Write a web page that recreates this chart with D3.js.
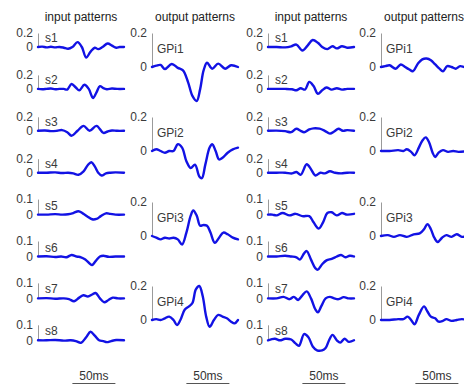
<!DOCTYPE html>
<html><head><meta charset="utf-8">
<script src="https://cdn.jsdelivr.net/npm/d3@7"></script>
<style>body{margin:0;background:#fff}svg{display:block}</style>
</head><body><svg id="c" width="464" height="385"></svg>
<script>
// ---------------- data ----------------
const columnTitles = ["input patterns", "output patterns", "input patterns", "output patterns"];
const inputLabels = ["s1", "s2", "s3", "s4", "s5", "s6", "s7", "s8"];
const outputLabels = ["GPi1", "GPi2", "GPi3", "GPi4"];
const inputTicksUpper = [0, 0.2];
const inputTicksLower = [0, 0.1];
const outputTicks = [0, 0.2];
const timeDomain = [0, 100];
const scaleBarMs = [40, 90];
const scaleBarLabel = "50ms";

// column 1: input patterns  [time ms, value]
const inA_s1 = [[0,0],[5,0.005],[10,-0.005],[15,0.003],[20,-0.005],[25,0],[30,-0.01],[35,-0.025],[40,0],[46,0.07],[51,0],[56,-0.15],[61,-0.07],[66,-0.01],[70,-0.03],[75,0],[81,0.05],[86,0.02],[91,-0.01],[95,0],[100,0]];
const inA_s2 = [[0,0],[5,-0.005],[10,0],[15,0.005],[20,-0.005],[25,0],[30,0],[34,-0.01],[39,0.07],[44,0.02],[48,-0.02],[54,0.06],[59,0],[64,-0.13],[68,-0.05],[72,0.04],[76,0.01],[80,-0.005],[86,0.005],[92,0],[100,0]];
const inA_s3 = [[0,0],[8,0.005],[15,-0.005],[22,0],[28,0.01],[34,-0.02],[39,-0.07],[46,0],[53,0.07],[60,0],[68,0.07],[76,-0.03],[81,-0.01],[86,0.005],[92,0],[100,0]];
const inA_s4 = [[0,0],[10,0],[20,0.005],[28,-0.005],[35,0],[41,-0.01],[47,-0.03],[53,0.02],[58,0.11],[62,0.15],[66,0.09],[70,0],[74,-0.04],[79,-0.01],[84,0],[90,0.005],[100,0]];
const inA_s5 = [[0,0],[10,0],[20,0.003],[28,0],[35,0.002],[41,0.01],[47,0.022],[52,0.008],[57,-0.01],[63,-0.03],[68,-0.028],[73,-0.01],[79,0.008],[84,0.005],[90,0],[100,0]];
const inA_s6 = [[0,0],[10,0.002],[20,-0.003],[27,0],[33,-0.005],[39,0.01],[45,0],[50,-0.005],[55,-0.02],[60,-0.045],[63,-0.055],[67,-0.03],[72,0],[76,0.005],[82,-0.002],[90,0],[100,0]];
const inA_s7 = [[0,0],[10,0.002],[20,-0.002],[30,0],[36,-0.005],[42,-0.018],[48,0.005],[53,0.02],[58,0.012],[63,0.025],[67,0.035],[72,0],[77,-0.025],[82,-0.01],[87,0.005],[93,0],[100,0]];
const inA_s8 = [[0,0],[10,0],[20,0.002],[30,-0.002],[38,0],[44,-0.005],[50,-0.016],[56,0.02],[61,0.055],[66,0.03],[71,0],[76,-0.005],[80,-0.012],[85,-0.005],[91,0.002],[100,0]];

// column 2: output patterns
const outA_GPi1 = [[0,0],[5,0.008],[10,0.012],[15,-0.012],[23,0.018],[30,-0.005],[36,-0.02],[42,-0.09],[47,-0.17],[52,-0.2],[56,-0.13],[60,-0.02],[64,0.025],[70,-0.01],[77,0.02],[85,-0.01],[92,0.01],[100,0]];
const outA_GPi2 = [[0,0],[5,0.01],[10,0],[15,-0.01],[20,0],[25,0],[30,0.04],[35,0.02],[40,-0.06],[45,-0.1],[50,-0.08],[55,-0.15],[58,-0.16],[62,-0.08],[67,0.02],[70,0.04],[74,0],[78,-0.05],[82,-0.04],[88,-0.01],[94,0.01],[100,0.02]];
const outA_GPi3 = [[0,0],[5,-0.01],[10,-0.02],[15,-0.01],[20,-0.015],[25,-0.01],[30,-0.02],[35,-0.05],[40,0.02],[45,0.12],[48,0.15],[52,0.12],[56,0.06],[60,0.065],[64,0.06],[68,0.02],[73,-0.04],[78,-0.01],[83,0.02],[88,0.01],[94,-0.01],[100,-0.02]];
const outA_GPi4 = [[0,0],[5,0.005],[10,0],[15,0.01],[20,0.02],[25,0],[29,-0.03],[33,0],[38,0.06],[43,0.08],[47,0.1],[51,0.18],[55,0.2],[59,0.14],[63,0.02],[67,-0.04],[72,0],[77,0.03],[82,0.02],[87,0.01],[92,-0.01],[96,-0.02],[100,0]];

// column 3: input patterns
const inB_s1 = [[0,0],[10,0],[20,-0.005],[27,0.01],[33,0.035],[40,-0.05],[46,0.02],[52,0.1],[58,0.06],[63,0],[69,-0.03],[75,0.01],[80,-0.02],[86,0.01],[92,-0.01],[100,0]];
const inB_s2 = [[0,0],[10,0],[20,0],[28,-0.005],[33,-0.02],[38,0.01],[43,-0.01],[48,0.1],[53,0.04],[58,-0.07],[63,-0.02],[68,0.02],[74,-0.01],[80,0.01],[86,-0.01],[92,0],[100,0]];
const inB_s3 = [[0,0],[10,0.003],[20,-0.005],[27,-0.02],[33,0.03],[38,0],[42,-0.02],[48,0.02],[53,0.035],[60,0.03],[66,0],[72,-0.04],[77,-0.01],[82,0.03],[87,0],[92,0.01],[100,0]];
const inB_s4 = [[0,0],[10,0],[20,0],[28,-0.01],[33,0.01],[38,-0.03],[45,0.12],[50,0.05],[55,-0.04],[61,0],[66,-0.01],[72,0.02],[78,0],[85,-0.01],[92,0],[100,0]];
const inB_s5 = [[0,0],[5,0],[10,-0.005],[17,0.01],[25,-0.005],[32,0.005],[40,-0.01],[48,-0.01],[53,-0.05],[59,-0.09],[64,-0.05],[69,0.01],[74,0.015],[80,-0.005],[86,0.01],[92,0],[100,0.005]];
const inB_s6 = [[0,0],[10,0],[20,0.005],[27,0],[33,-0.005],[37,-0.02],[42,0.02],[45,0.035],[50,-0.02],[55,-0.075],[58,-0.085],[63,-0.05],[68,-0.025],[74,-0.015],[80,0],[85,0.01],[90,-0.005],[95,0.005],[100,0]];
const inB_s7 = [[0,0],[10,0],[18,0.01],[25,-0.005],[30,0.01],[35,-0.01],[40,0.02],[45,0.045],[50,0],[55,-0.07],[58,-0.09],[62,-0.05],[67,0],[72,0.01],[77,0],[82,-0.005],[88,0.008],[94,0],[100,0]];
const inB_s8 = [[0,0],[8,0.01],[14,0],[20,0.01],[27,0.005],[32,-0.02],[36,-0.035],[42,0.04],[47,0.02],[52,-0.04],[57,-0.065],[63,-0.065],[67,-0.05],[71,0],[75,0.035],[80,0],[84,-0.015],[89,0.01],[94,-0.01],[100,0]];

// column 4: output patterns
const outB_GPi1 = [[0,0],[5,0.005],[10,0.01],[17,-0.01],[23,0.015],[28,0],[33,-0.015],[37,-0.025],[43,0.02],[48,0.045],[53,0.05],[58,0.04],[63,0.015],[68,-0.01],[72,-0.025],[77,0.005],[82,0],[87,-0.01],[92,0.005],[97,0],[100,0]];
const outB_GPi2 = [[0,0],[10,0],[20,0.005],[26,0],[30,0.01],[35,-0.005],[39,-0.025],[44,0.02],[48,0.06],[52,0.08],[56,0.05],[60,-0.01],[63,-0.035],[67,-0.01],[72,0.005],[78,-0.005],[84,0],[90,-0.005],[100,0]];
const outB_GPi3 = [[0,0],[8,0.005],[15,-0.005],[22,0.005],[30,-0.005],[38,0.01],[45,0.015],[50,0.04],[54,0.07],[58,0.04],[62,-0.01],[66,-0.035],[71,-0.01],[76,0.005],[82,-0.005],[88,0.01],[94,-0.005],[100,0]];
const outB_GPi4 = [[0,0],[10,0],[20,0.005],[26,0.005],[31,0.02],[35,0],[39,-0.025],[44,0.03],[50,0.08],[54,0.05],[58,0.02],[63,0.01],[67,-0.01],[72,-0.005],[76,0.005],[82,-0.005],[88,0],[94,0.005],[100,0]];

const inputSetA = [inA_s1, inA_s2, inA_s3, inA_s4, inA_s5, inA_s6, inA_s7, inA_s8];
const inputSetB = [inB_s1, inB_s2, inB_s3, inB_s4, inB_s5, inB_s6, inB_s7, inB_s8];
const outputSetA = [outA_GPi1, outA_GPi2, outA_GPi3, outA_GPi4];
const outputSetB = [outB_GPi1, outB_GPi2, outB_GPi3, outB_GPi4];

// ---------------- layout ----------------
const FONT = '"Liberation Sans", Arial, Helvetica, sans-serif';
const LINE = "#1212e4";
const colX = [38, 152, 268, 381];
const colW = 86;
const inZero = d3.range(8).map(i => 47 + i * 41.9);
const outZero = [67, 151, 236, 320];
const inBarUpper = 14, inBarLower = 15.5, outBar = 34;

const svg = d3.select("#c");
const fmt = d => d === 0 ? "0" : String(d);

function panel(col, zero, ticks, barPx, label, labelDy, labelDx, series) {
  const x = d3.scaleLinear().domain(timeDomain).range([colX[col], colX[col] + colW]);
  const y = d3.scaleLinear().domain([0, ticks[1]]).range([zero, zero - barPx]);
  const ax = svg.append("g").attr("transform", `translate(${colX[col]},0)`)
    .call(d3.axisLeft(y).tickValues(ticks).tickSize(0).tickSizeOuter(0).tickPadding(5).tickFormat(fmt));
  ax.attr("font-family", FONT).attr("font-size", 12);
  ax.select(".domain").attr("stroke", "#9a9a9a").attr("stroke-width", 1);
  ax.selectAll("text").attr("fill", "#3a3a3a");
  svg.append("text").attr("x", colX[col] + labelDx).attr("y", zero - labelDy)
    .attr("font-family", FONT).attr("font-size", 12).attr("fill", "#3a3a3a").text(label);
  const line = d3.line().x(d => x(d[0])).y(d => y(d[1])).curve(d3.curveCatmullRom.alpha(0.5));
  svg.append("path").datum(series).attr("d", line).attr("fill", "none")
    .attr("stroke", LINE).attr("stroke-width", 2.4).attr("stroke-linejoin", "round").attr("stroke-linecap", "round");
  return x;
}

[0, 2].forEach((col, k) => {
  const set = k === 0 ? inputSetA : inputSetB;
  set.forEach((s, i) => {
    const ticks = i < 4 ? inputTicksUpper : inputTicksLower;
    const bar = i < 4 ? inBarUpper : inBarLower;
    panel(col, inZero[i], ticks, bar, inputLabels[i], 5, 7, s);
  });
});
[1, 3].forEach((col, k) => {
  const set = k === 0 ? outputSetA : outputSetB;
  set.forEach((s, i) => {
    panel(col, outZero[i], outputTicks, outBar, outputLabels[i], 14, 5, s);
  });
});

// titles and scale bars
columnTitles.forEach((t, col) => {
  const x = d3.scaleLinear().domain(timeDomain).range([colX[col], colX[col] + colW]);
  svg.append("text").attr("x", x(50)).attr("y", 21).attr("text-anchor", "middle")
    .attr("font-family", FONT).attr("font-size", 12).attr("fill", "#222").text(t);
  svg.append("line").attr("x1", x(scaleBarMs[0])).attr("x2", x(scaleBarMs[1]))
    .attr("y1", 383.5).attr("y2", 383.5).attr("stroke", "#555").attr("stroke-width", 1);
  svg.append("text").attr("x", x((scaleBarMs[0] + scaleBarMs[1]) / 2)).attr("y", 380)
    .attr("text-anchor", "middle").attr("font-family", FONT).attr("font-size", 12)
    .attr("fill", "#333").text(scaleBarLabel);
});
</script></body></html>
